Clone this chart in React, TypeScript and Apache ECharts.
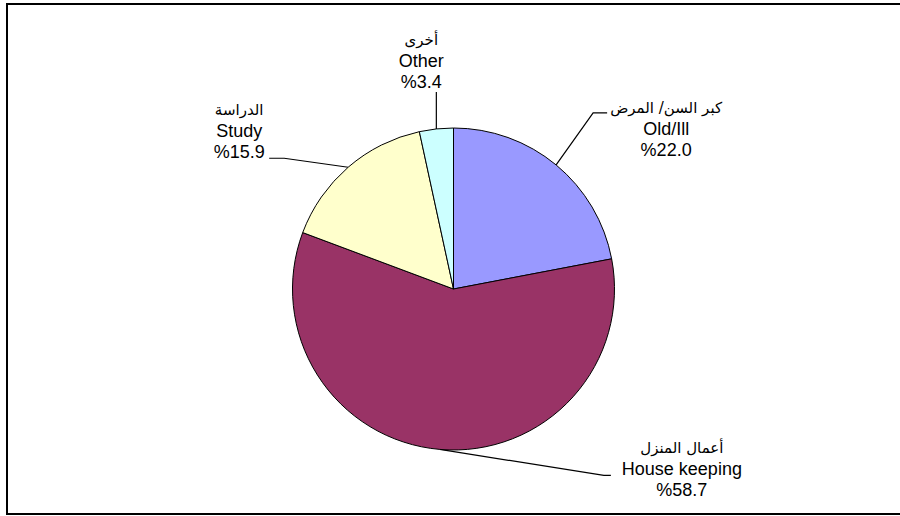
import React, { useEffect, useRef } from "react";
import * as echarts from "echarts";

const categoriesAr = ["كبر السن/ المرض", "أعمال المنزل", "الدراسة", "أخرى"];
const categoriesEn = ["Old/Ill", "House keeping", "Study", "Other"];
const values = [22.0, 58.7, 15.9, 3.4];
const colors = ["#9999FF", "#993366", "#FFFFCC", "#CCFFFF"];

// label placement relative to the slice's edge anchor: [elbow, end, labelCenter]
const labelOffsets: number[][][] = [
  [[37, -52], [51, -52], [110, -36]],
  [[164, 26], [171, 26], [242, 20]],
  [[-64, -9], [-79, -9], [-109, -36]],
  [[0, -37], [0, -37], [-15, -68]],
];

const CENTER = [453.5, 289];
const RADIUS = 161;

export default function App() {
  const ref = useRef<HTMLDivElement>(null);
  useEffect(() => {
    if (!ref.current) return;
    const chart = echarts.init(ref.current, null, { renderer: "svg" });
    const total = values.reduce((a, b) => a + b, 0);
    const anchors: number[][] = [];
    let cum = 0;
    values.forEach((v) => {
      const mid = ((cum + v / 2) / total) * Math.PI * 2;
      anchors.push([CENTER[0] + RADIUS * Math.sin(mid), CENTER[1] - RADIUS * Math.cos(mid)]);
      cum += v;
    });
    chart.setOption({
      animation: false,
      backgroundColor: "#ffffff",
      graphic: [
        {
          type: "rect",
          shape: { x: 7, y: 4, width: 900, height: 510 },
          style: { fill: "none", stroke: "#000", lineWidth: 2 },
          silent: true,
        },
      ],
      series: [
        {
          type: "pie",
          center: CENTER,
          radius: RADIUS,
          startAngle: 90,
          clockwise: true,
          avoidLabelOverlap: false,
          itemStyle: { borderColor: "#000", borderWidth: 1 },
          emphasis: { disabled: true },
          label: {
            show: true,
            position: "outside",
            color: "#000",
            fontFamily: "Arial, 'Liberation Sans', sans-serif",
            formatter: (p: any) =>
              `{ar|${categoriesAr[p.dataIndex]}}\n{en|${categoriesEn[p.dataIndex]}}\n{en|%${values[p.dataIndex].toFixed(1)}}`,
            rich: {
              ar: {
                fontSize: 15,
                lineHeight: 21,
                fontFamily: "'DejaVu Sans', Arial, sans-serif",
                color: "#000",
                align: "center",
              },
              en: {
                fontSize: 18,
                lineHeight: 21,
                fontFamily: "Arial, 'Liberation Sans', sans-serif",
                color: "#000",
                align: "center",
              },
            },
          },
          labelLine: {
            show: true,
            length: 20,
            length2: 10,
            lineStyle: { color: "#000", width: 1.2 },
          },
          labelLayout: (params: any) => {
            const i = params.dataIndex;
            const a = anchors[i];
            const o = labelOffsets[i];
            return {
              x: a[0] + o[2][0],
              y: a[1] + o[2][1],
              align: "center",
              verticalAlign: "middle",
              labelLinePoints: [
                [a[0], a[1]],
                [a[0] + o[0][0], a[1] + o[0][1]],
                [a[0] + o[1][0], a[1] + o[1][1]],
              ],
            };
          },
          data: values.map((v, i) => ({
            value: v,
            name: categoriesEn[i],
            itemStyle: { color: colors[i] },
          })),
        },
      ],
    });
    return () => chart.dispose();
  }, []);
  return (
    <div
      ref={ref}
      style={{ position: "absolute", left: 0, top: 0, width: 900, height: 516 }}
    />
  );
}
